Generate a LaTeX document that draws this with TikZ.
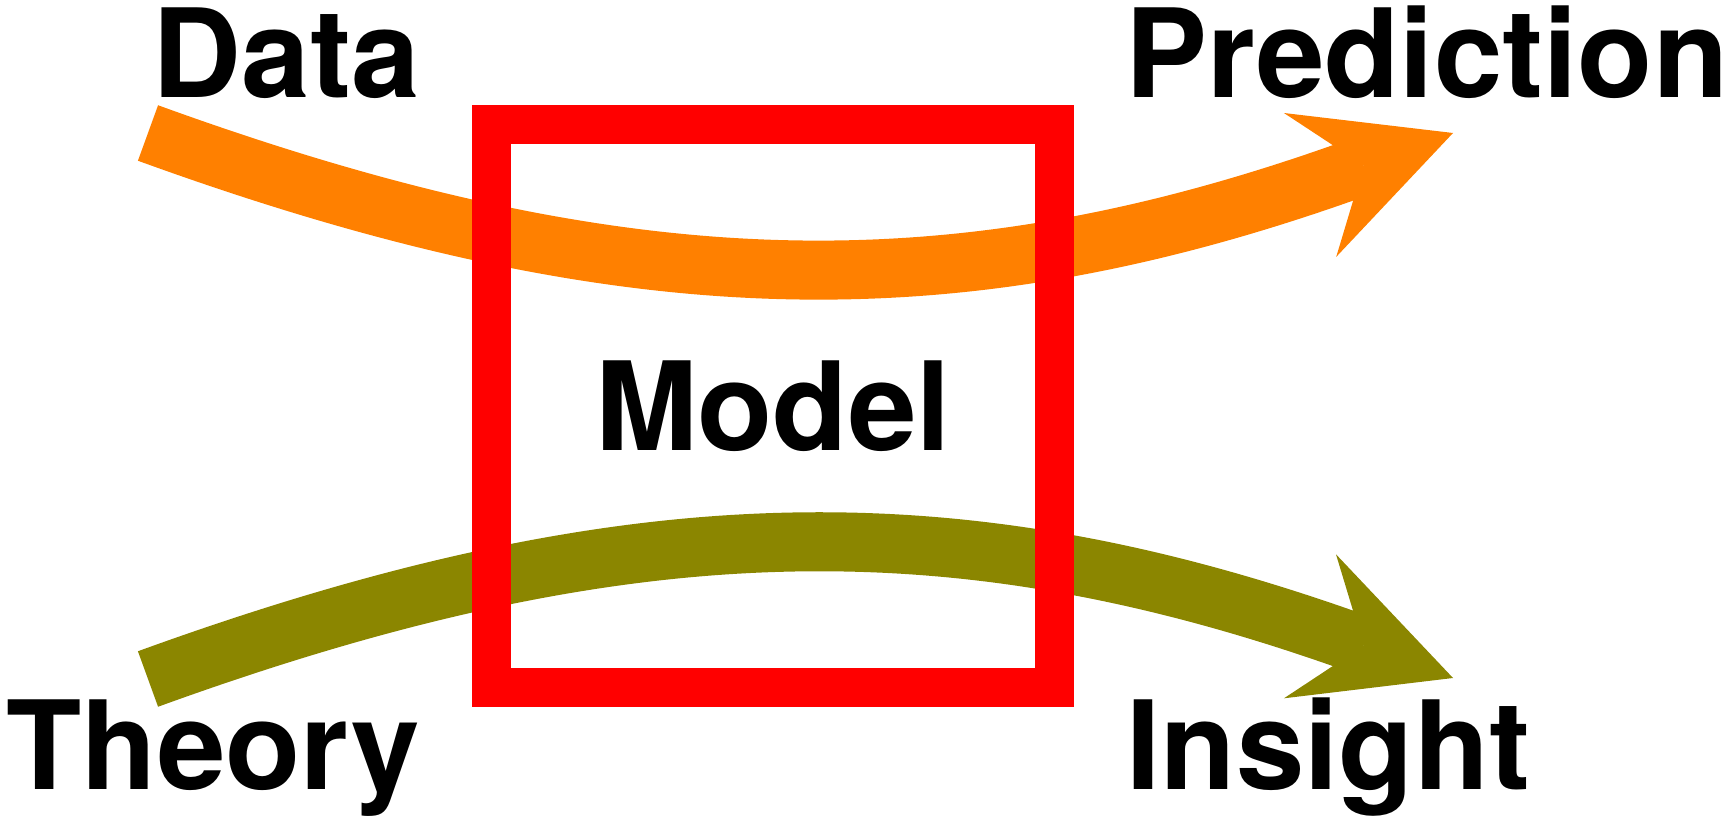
\documentclass[tikz,border=0pt]{standalone}
\usepackage{fontspec}
\setmainfont{TeX Gyre Heros}
\usetikzlibrary{arrows.meta}
\definecolor{dataorange}{RGB}{255,128,0}
\definecolor{theoryolive}{RGB}{139,134,0}

\begin{document}
\begin{tikzpicture}
	[
		x = 0.01cm, y = -0.01cm,
		term/.style = {anchor = base west, inner sep = 0pt, font = \fontsize{35}{42}\selectfont\bfseries},
		flow/.style = {line width = 0.59cm, -{Stealth[length = 1.52cm, width = 1.53cm, inset = 0.57cm, line width = 0pt]}},
		modelbox/.style = {draw = red, line width = 0.39cm, minimum width = 5.63cm, minimum height = 5.63cm, inner sep = 0pt, font = \fontsize{35}{42}\selectfont\bfseries}]
	
	\useasboundingbox (0,0) rectangle (1731,825);
	
	% words round the model
	\node[term] (data) at (152,98) {Data};
	\node[term] (prediction) at (1125,98) {Prediction};
	\node[term] (theory) at (6,789) {Theory};
	\node[term] (insight) at (1126,789) {Insight};
	
	\coordinate (dataStart) at (148,133);
	\coordinate (predTip) at (1453,133);
	\coordinate (theoryStart) at (148,679);
	\coordinate (insightTip) at (1453,678);
	
	\draw[flow, dataorange] (dataStart) .. controls (635,310) and (966,310) .. (predTip);
	\draw[flow, theoryolive] (theoryStart) .. controls (635,502) and (966,502) .. (insightTip);
	
	\node[modelbox] (model) at (773,406) {Model};
\end{tikzpicture}
\end{document}
